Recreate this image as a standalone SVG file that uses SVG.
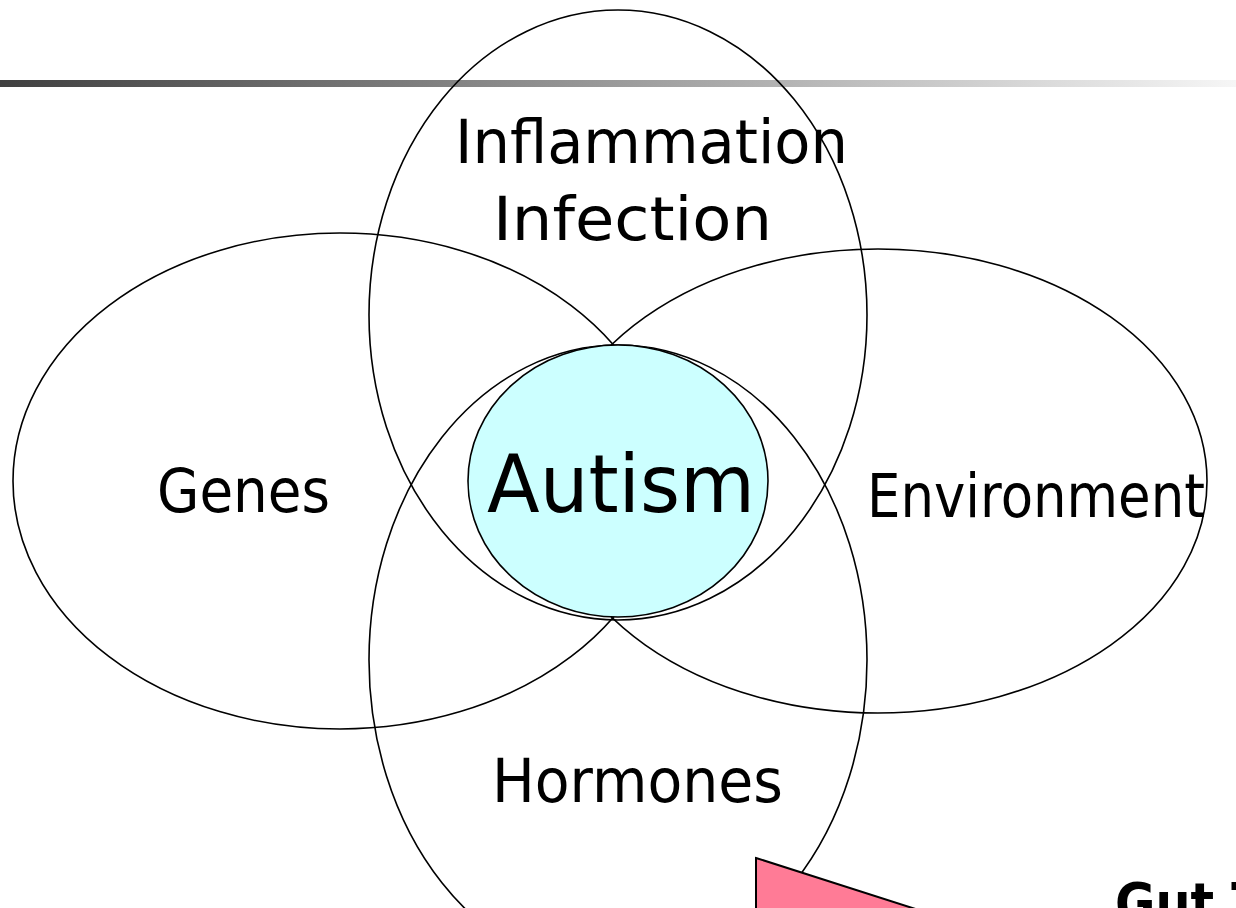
<svg xmlns="http://www.w3.org/2000/svg" width="1236" height="908" viewBox="0 0 1236 908">
<style>
.ring{fill:none;stroke:#000;stroke-width:1.6}
.lbl{font-family:"DejaVu Sans","Liberation Sans",sans-serif;fill:#000;text-anchor:start}
</style>
<defs>
<linearGradient id="bar" x1="0" y1="0" x2="1" y2="0">
<stop offset="0" stop-color="#404040"/>
<stop offset="1" stop-color="#f6f6f6"/>
</linearGradient>
</defs>
<rect x="0" y="0" width="1236" height="908" fill="#fff"/>
<rect x="0" y="80" width="1236" height="7" fill="url(#bar)"/>
<g id="inflammation">
<ellipse class="ring" cx="618" cy="315" rx="249" ry="305"/>
<text class="lbl" x="455" y="163" font-size="60" textLength="393" lengthAdjust="spacingAndGlyphs">Inflammation</text>
<text class="lbl" x="493" y="240" font-size="60" textLength="279" lengthAdjust="spacingAndGlyphs">Infection</text>
</g>
<g id="genes">
<ellipse class="ring" cx="340" cy="481" rx="327" ry="248"/>
<text class="lbl" x="157" y="512" font-size="60" textLength="173" lengthAdjust="spacingAndGlyphs">Genes</text>
</g>
<g id="environment">
<ellipse class="ring" cx="878" cy="481" rx="329" ry="232"/>
<text class="lbl" x="867" y="517" font-size="60" textLength="338" lengthAdjust="spacingAndGlyphs">Environment</text>
</g>
<g id="hormones">
<ellipse class="ring" cx="618" cy="660" rx="249" ry="315"/>
<text class="lbl" x="492" y="802" font-size="60" textLength="291" lengthAdjust="spacingAndGlyphs">Hormones</text>
</g>
<g id="autism">
<ellipse cx="618" cy="481" rx="150" ry="136" fill="#ccffff" stroke="#000" stroke-width="1.6"/>
<text class="lbl" x="487" y="512" font-size="80" textLength="268" lengthAdjust="spacingAndGlyphs">Autism</text>
</g>
<g id="gut">
<polygon points="756,858 1000,936 756,960" fill="#ff7b96" stroke="#000" stroke-width="2"/>
<text class="lbl" x="1115" y="922" font-size="56" font-weight="bold" textLength="150" lengthAdjust="spacingAndGlyphs">Gut T</text>
</g>
<g id="connectors"></g>
</svg>
